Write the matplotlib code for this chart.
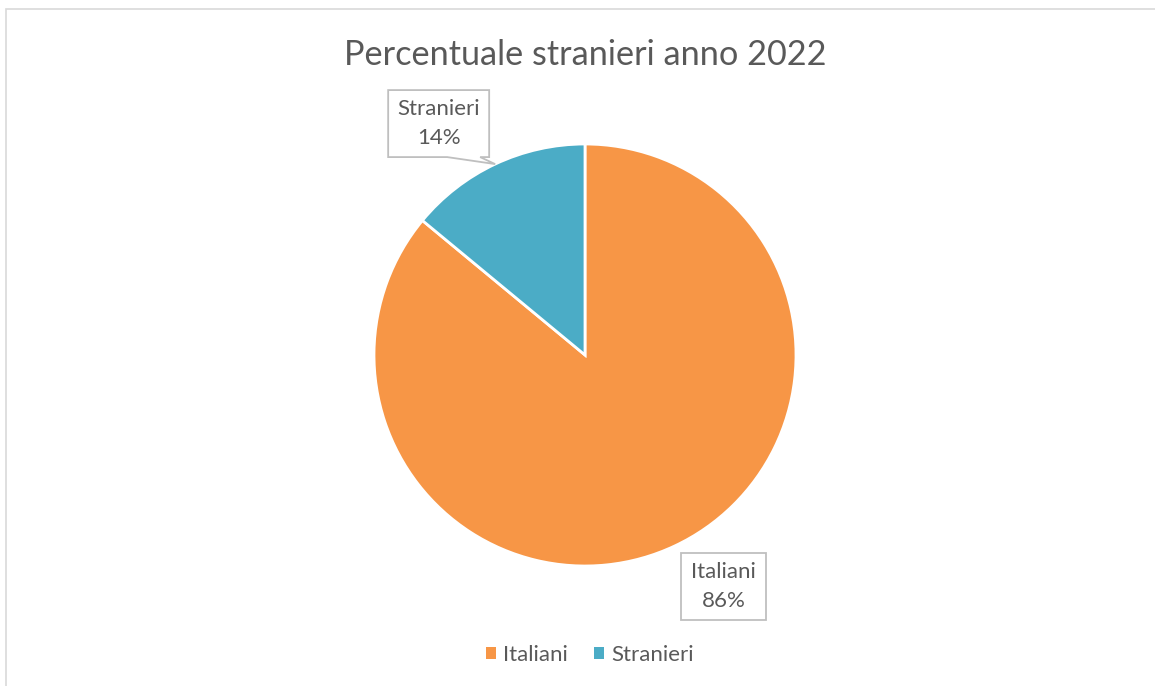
import matplotlib
matplotlib.use("Agg")
import numpy as np
import matplotlib.pyplot as plt
from matplotlib.patches import Polygon, Patch, Rectangle

plt.rcParams["font.family"] = ["Lato", "DejaVu Sans"]

title = "Percentuale stranieri anno 2022"
categories = ["Italiani", "Stranieri"]
shares = [86, 14]
colors = ["#F79646", "#4BACC6"]
text_color = "#595959"
line_color = "#BFBFBF"

W, H = 1155, 686


def callout(fig, tip, box, base):
    """Box with a pointer, all in display pixels (origin bottom-left)."""
    x0, y0, x1, y1 = box
    (bx0, by0), (bx1, by1) = base
    pts = [(x0, y0), (x1, y0), (x1, y1), (x0, y1)]
    # insert the pointer between the two base points on the box outline
    outline = []
    for i, p in enumerate(pts):
        outline.append(p)
        q = pts[(i + 1) % 4]
        on_edge = lambda b: (min(p[0], q[0]) - 0.5 <= b[0] <= max(p[0], q[0]) + 0.5 and
                             min(p[1], q[1]) - 0.5 <= b[1] <= max(p[1], q[1]) + 0.5)
        if on_edge((bx0, by0)) and on_edge((bx1, by1)):
            d0 = np.hypot(bx0 - p[0], by0 - p[1])
            d1 = np.hypot(bx1 - p[0], by1 - p[1])
            first, second = ((bx0, by0), (bx1, by1)) if d0 < d1 else ((bx1, by1), (bx0, by0))
            outline += [first, tip, second]
    poly = Polygon(outline, closed=True, facecolor="white", edgecolor=line_color,
                   linewidth=1.3, transform=None, zorder=5)
    fig.patches.append(poly)


def main():
    fig = plt.figure(figsize=(W / 100, H / 100), dpi=100)

    # outer chart border (runs off the right and bottom)
    fig.patches.append(Rectangle((6 / W, -0.05), 1.1, 1 - 9 / H + 0.05,
                                 transform=fig.transFigure, fill=False,
                                 edgecolor="#D9D9D9", linewidth=1.2))

    cx, cy, r = 585, H - 355, 211
    ax = fig.add_axes([(cx - r) / W, (cy - r) / H, 2 * r / W, 2 * r / H])
    wedges, _ = ax.pie(shares, colors=colors, startangle=90, counterclock=False,
                       radius=1.0, wedgeprops=dict(edgecolor="white", linewidth=2))
    ax.set_xlim(-1, 1)
    ax.set_ylim(-1, 1)
    ax.set_aspect("equal")
    ax.axis("off")

    fig.text(cx / W, 1 - 55 / H, title, ha="center", va="center",
             fontsize=24.7, color=text_color)

    fig.canvas.draw()
    # label boxes positioned relative to each wedge's outer midpoint
    offsets = {
        "Stranieri": dict(box=(-107, 7, -6, 74), base=((-48, 7), (-15, 7))),
        "Italiani": dict(box=(6, -74, 91, -7), base=((6, -12), (40, -7))),
    }
    for w, name, pct in zip(wedges, categories, shares):
        mid = np.deg2rad((w.theta1 + w.theta2) / 2)
        tip = ax.transData.transform((np.cos(mid), np.sin(mid)))
        o = offsets[name]
        bx = (tip[0] + o["box"][0], tip[1] + o["box"][1], tip[0] + o["box"][2], tip[1] + o["box"][3])
        base = [(tip[0] + dx, tip[1] + dy) for dx, dy in o["base"]]
        callout(fig, tuple(tip), bx, base)
        fig.text((bx[0] + bx[2]) / 2 / W, (bx[1] + bx[3]) / 2 / H, f"{name}\n{pct}%",
                 ha="center", va="center", fontsize=16, color=text_color,
                 linespacing=1.55, zorder=6)

    handles = [Patch(facecolor=c, edgecolor="none") for c in colors]
    fig.legend(handles, categories, loc="center", bbox_to_anchor=(590 / W, 1 - 655 / H),
               ncol=2, frameon=False, fontsize=16, labelcolor=text_color,
               handlelength=0.45, handleheight=0.45, handletextpad=0.35, columnspacing=1.15)

    fig.savefig("out.png", dpi=100, facecolor="white")
    plt.close(fig)


if __name__ == "__main__":
    main()
